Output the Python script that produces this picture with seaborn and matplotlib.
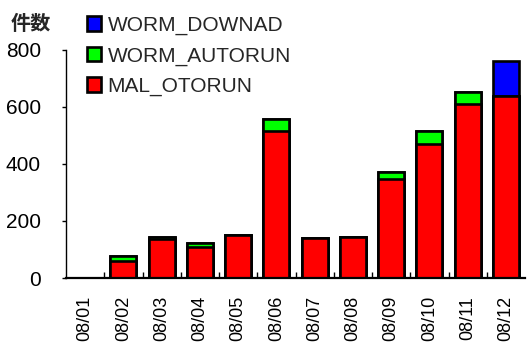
import matplotlib
matplotlib.use("Agg")
import matplotlib.pyplot as plt
import numpy as np
import pandas as pd
import seaborn as sns
from matplotlib.patches import Patch
from matplotlib.ticker import FixedLocator

# Daily detection counts per malware family
dates = ["08/01", "08/02", "08/03", "08/04", "08/05", "08/06",
         "08/07", "08/08", "08/09", "08/10", "08/11", "08/12"]
mal_otorun = [0, 60, 138, 110, 150, 515, 141, 144, 346, 469, 610, 637]
worm_autorun = [0, 17, 6, 12, 0, 43, 0, 0, 25, 47, 44, 0]
worm_downad = [0, 0, 0, 0, 0, 0, 0, 0, 0, 0, 0, 124]
y_ticks = [0, 200, 400, 600, 800]

series_names = ["WORM_DOWNAD", "WORM_AUTORUN", "MAL_OTORUN"]
series_colors = ["#0000FF", "#00FF00", "#FF0000"]

sns.set_style("ticks")
plt.rcParams["font.family"] = ["Liberation Sans", "DejaVu Sans"]

df = pd.DataFrame({
    "date": dates,
    "mal": mal_otorun,
    "autorun": worm_autorun,
    "downad": worm_downad,
})
# cumulative tops of each stacked layer
df["top_autorun"] = df["mal"] + df["autorun"]
df["top_downad"] = df["top_autorun"] + df["downad"]

fig = plt.figure(figsize=(5.28, 3.47), dpi=100)
ax = fig.add_axes([66 / 528, 1 - 278 / 347, (525 - 66) / 528, (278 - 50) / 347])

# draw back-to-front: tallest cumulative layer first
for col, color in [("top_downad", series_colors[0]),
                   ("top_autorun", series_colors[1]),
                   ("mal", series_colors[2])]:
    sns.barplot(data=df, x="date", y=col, color=color, saturation=1,
                edgecolor="black", linewidth=1.9, width=0.68,
                errorbar=None, ax=ax)

# empty days get no outline
for patch in ax.patches:
    if patch.get_height() == 0:
        patch.set_linewidth(0)

ax.set_xlim(-0.5, len(dates) - 0.5)
ax.set_ylim(0, 800)
ax.set_yticks(y_ticks)
ax.set_yticklabels([str(v) for v in y_ticks])
ax.set_xlabel("")
ax.set_ylabel("")

for side in ("top", "right"):
    ax.spines[side].set_visible(False)
ax.spines["left"].set_linewidth(1.0)
ax.spines["bottom"].set_linewidth(1.6)
ax.spines["left"].set_color("black")
ax.spines["bottom"].set_color("black")

ax.tick_params(axis="y", direction="out", length=3, width=1, pad=15,
               labelsize=15, colors="black")
ax.tick_params(axis="x", which="major", length=0, pad=13, labelsize=13,
               labelrotation=90, colors="black")
ax.xaxis.set_minor_locator(FixedLocator(np.arange(0.5, len(dates) - 1, 1.0)))
ax.tick_params(axis="x", which="minor", direction="in", length=4, width=1,
               colors="black")

fig.text(11 / 528, 1 - 23 / 347, "件数", fontsize=14.5, fontweight="bold",
         va="center", ha="left", family=["Noto Sans CJK JP", "DejaVu Sans"])

handles = [Patch(facecolor=c, edgecolor="black", linewidth=1.9)
           for c in series_colors]
fig.legend(handles, series_names, loc="upper left",
           bbox_to_anchor=(72 / 528, 1 - 1 / 347), frameon=False,
           fontsize=15, handlelength=0.7, handleheight=0.7,
           handletextpad=0.3, labelspacing=0.55, borderpad=0.2)

fig.savefig("out.png", dpi=100)
